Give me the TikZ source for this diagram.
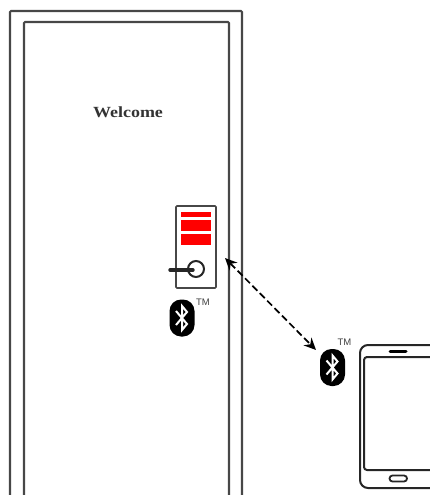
\documentclass[tikz,border=0pt]{standalone}
\usepackage{fontspec}
\setmainfont{Liberation Serif}
\setsansfont{Liberation Sans}
\usetikzlibrary{arrows.meta}
\definecolor{linegray}{gray}{0.28}
\tikzset{
  frameline/.style={draw=linegray,line width=2.1pt,rounded corners=1pt},
  redbar/.style={fill=red,draw=none},
  btbadge/.style={draw=none,fill=black,rounded corners=11.5pt},
  btrune/.style={draw=white,line width=2pt,line join=miter},
  tmlabel/.style={font=\sffamily\fontsize{9.5}{9.5}\selectfont,text=black!75,inner sep=0pt},
  welcome/.style={font=\bfseries\fontsize{15.5}{16}\selectfont,text=black!80,inner sep=0pt,xscale=1.16},
  link/.style={draw=black,line width=1.7pt,dash pattern=on 7pt off 3.5pt,{Stealth[length=12pt,width=11pt]}-{Stealth[length=12pt,width=11pt]}},
}
\newcommand{\btmark}[5]{%
  \filldraw[btbadge] (#1-12.5,#2-18.5) rectangle (#1+12.5,#2+18.5);
  \draw[btrune] (#1-6,#2-7) -- (#1+5,#2+6) -- (#1,#2+12) -- (#1,#2-12) -- (#1+5,#2-6) -- (#1-6,#2+7);
  \node[tmlabel] (#3) at (#1+#4,#2+#5) {TM};
}
\begin{document}
\begin{tikzpicture}[x=1pt,y=-1pt]
\useasboundingbox (0,0) rectangle (430,495);
\clip (0,0) rectangle (430,495);
% door
\draw[frameline] (10,510) -- (10,11) -- (242,11) -- (242,510);
\draw[frameline] (24,510) -- (24,22) -- (229,22) -- (229,510);
\node[welcome] (welcometext) at (128,112) {Welcome};
% lock
\draw[frameline,line width=1.7pt] (176,206) rectangle (216,288);
\fill[redbar] (181,212) rectangle (211,217);
\fill[redbar] (181,219.5) rectangle (211,231);
\fill[redbar] (181,233.5) rectangle (211,245);
\draw[draw=black!85,line width=2pt] (196,269) circle (8);
\draw[draw=black!85,line width=3.4pt,line cap=round] (170,270) -- (193,270);
% bluetooth
\btmark{182}{318}{tma}{21}{-16}
\btmark{332.5}{367.5}{tmb}{12}{-25}
% phone
\draw[draw=black!85,line width=2pt,rounded corners=8pt] (440,345) -- (360,345) -- (360,488) -- (440,488);
\draw[draw=black!85,line width=2pt,rounded corners=3pt] (440,357) -- (364,357) -- (364,470) -- (440,470);
\draw[draw=black,line width=3pt,line cap=round] (390,351.5) -- (406,351.5);
\draw[draw=black!85,line width=1.8pt,rounded corners=3pt] (389.5,475.5) rectangle (407,481.5);
% link
\coordinate (doorside) at (225,258);
\coordinate (phoneside) at (316,350);
\draw[link] (doorside) -- (phoneside);
\end{tikzpicture}
\end{document}
